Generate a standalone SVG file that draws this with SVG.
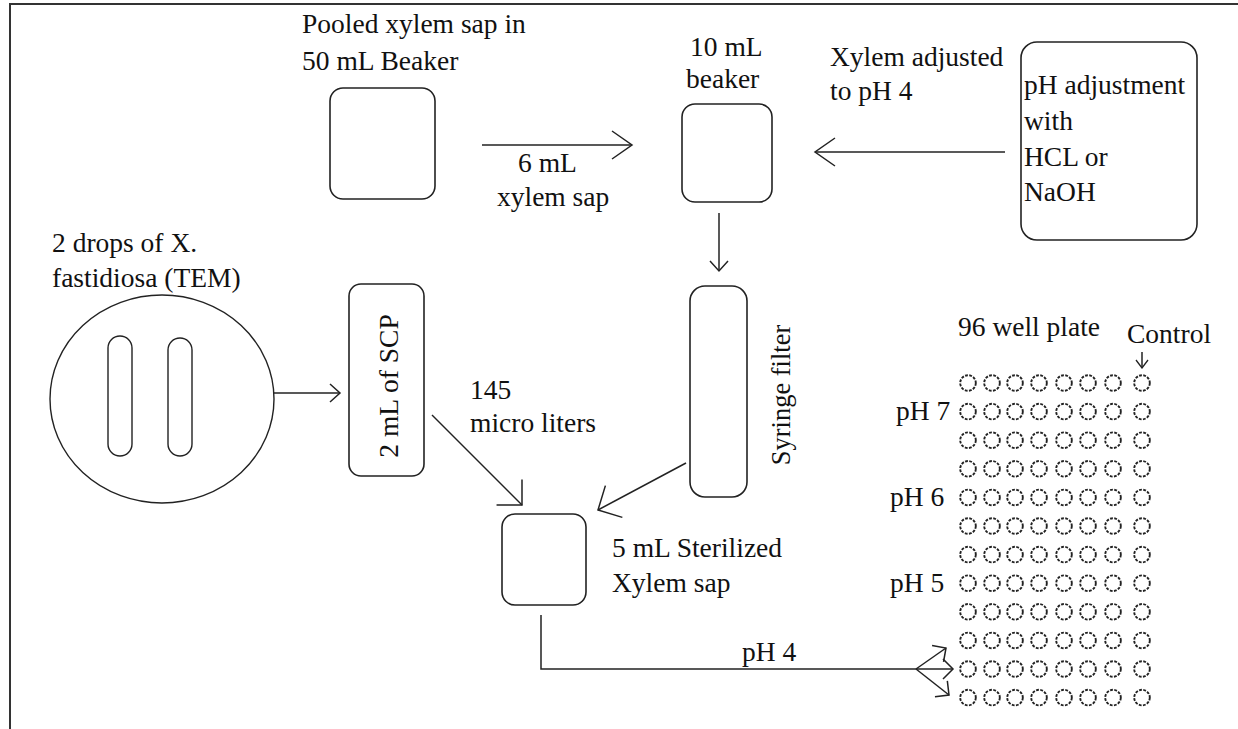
<svg xmlns="http://www.w3.org/2000/svg" width="1238" height="729" viewBox="0 0 1238 729">
<style>
text{font-family:"Liberation Serif","Times New Roman",serif;font-size:27.5px;fill:#111}
.b{fill:none;stroke:#222;stroke-width:1.6}
.c{fill:none;stroke:#222;stroke-width:1.4}
.w{fill:none;stroke:#222;stroke-width:1.9;stroke-dasharray:2.8 1.4}
</style>
<defs>
<marker id="big" markerUnits="userSpaceOnUse" markerWidth="24" markerHeight="32" viewBox="0 0 24 32" refX="22" refY="16" orient="auto"><path d="M2,2 L22,16 L2,30" fill="none" stroke="#222" stroke-width="1.5"/></marker>
<marker id="sm" markerUnits="userSpaceOnUse" markerWidth="14" markerHeight="22" viewBox="0 0 14 22" refX="12" refY="11" orient="auto"><path d="M2,2 L12,11 L2,20" fill="none" stroke="#222" stroke-width="1.5"/></marker>
<marker id="wide" markerUnits="userSpaceOnUse" markerWidth="22" markerHeight="42" viewBox="0 0 22 42" refX="20" refY="21" orient="auto"><path d="M2,3 L20,21 L2,39" fill="none" stroke="#222" stroke-width="1.5"/></marker>
<marker id="fk" markerUnits="userSpaceOnUse" markerWidth="14" markerHeight="24" viewBox="0 0 14 24" refX="12" refY="12" orient="auto"><path d="M2,2 L12,12 L2,22" fill="none" stroke="#222" stroke-width="1.5"/></marker>
<marker id="tiny" markerUnits="userSpaceOnUse" markerWidth="10" markerHeight="14" viewBox="0 0 10 14" refX="9" refY="7" orient="auto"><path d="M1,1 L9,7 L1,13" fill="none" stroke="#222" stroke-width="1.3"/></marker>
<g id="row">
<circle class="w" cx="968" cy="0" r="7.8"/><circle class="w" cx="992" cy="0" r="7.8"/><circle class="w" cx="1015" cy="0" r="7.8"/><circle class="w" cx="1039" cy="0" r="7.8"/><circle class="w" cx="1064" cy="0" r="7.8"/><circle class="w" cx="1088" cy="0" r="7.8"/><circle class="w" cx="1113" cy="0" r="7.8"/><circle class="w" cx="1142" cy="0" r="7.8"/>
</g>
</defs>
<rect width="1238" height="729" fill="#fff"/>
<g id="frame"><path d="M9,4 H1238 M10,4 V729" fill="none" stroke="#333" stroke-width="2"/></g>

<g id="pooled-beaker">
<text x="302" y="33">Pooled xylem sap in</text>
<text x="302" y="70">50 mL Beaker</text>
<rect class="b" x="330" y="88" width="105" height="111" rx="13"/>
</g>
<g id="beaker-10">
<text x="690" y="56">10 mL</text>
<text x="686" y="88">beaker</text>
<rect class="b" x="682" y="104" width="90" height="98" rx="13"/>
</g>
<g id="ph-adjust">
<rect class="b" x="1021" y="42" width="176" height="198" rx="16"/>
<text x="1024" y="94">pH adjustment</text>
<text x="1024" y="130">with</text>
<text x="1024" y="166">HCL or</text>
<text x="1024" y="201">NaOH</text>
</g>
<g id="syringe">
<rect class="b" x="690" y="286" width="57" height="211" rx="15"/>
<text transform="translate(790,395) rotate(-90)" text-anchor="middle" style="font-size:26.5px">Syringe filter</text>
</g>
<g id="dish">
<text x="52" y="252">2 drops of X.</text>
<text x="52" y="287">fastidiosa (TEM)</text>
<ellipse class="c" cx="162" cy="399" rx="112" ry="104"/>
<rect class="c" x="108" y="336" width="24" height="120" rx="12"/>
<rect class="c" x="168" y="338" width="24" height="118" rx="12"/>
</g>
<g id="scp">
<rect class="b" x="349" y="284" width="75" height="192" rx="12"/>
<text transform="translate(398,386) rotate(-90)" text-anchor="middle">2 mL of SCP</text>
</g>
<g id="sterile">
<rect class="b" x="502" y="514" width="84" height="91" rx="13"/>
<text x="612" y="557">5 mL  Sterilized</text>
<text x="612" y="592">Xylem sap</text>
</g>
<g id="plate">
<text x="958" y="336">96 well plate</text>
<text x="1127" y="343">Control</text>
<text x="896" y="420">pH 7</text>
<text x="890" y="506">pH 6</text>
<text x="890" y="592">pH 5</text>
<use href="#row" y="383"/><use href="#row" y="411.6"/><use href="#row" y="440.2"/><use href="#row" y="468.8"/>
<use href="#row" y="497.4"/><use href="#row" y="526"/><use href="#row" y="554.6"/><use href="#row" y="583.2"/>
<use href="#row" y="611.8"/><use href="#row" y="640.4"/><use href="#row" y="669"/><use href="#row" y="697.6"/>
</g>

<g id="connectors" fill="none" stroke="#222" stroke-width="1.5">
<path d="M482,145 H632" marker-end="url(#big)"/>
<path d="M1005,152 H815" marker-end="url(#big)"/>
<path d="M719,213 V271" marker-end="url(#sm)"/>
<path d="M274,393 H340" marker-end="url(#sm)"/>
<path d="M432,415 L522,505" marker-end="url(#wide)"/>
<path d="M686,463 L598,510" marker-end="url(#wide)"/>
<path d="M541,615 V669 H916"/>
<path d="M916,669 L946,648" marker-end="url(#fk)"/>
<path d="M916,669 H953" marker-end="url(#fk)"/>
<path d="M916,669 L949,695" marker-end="url(#fk)"/>
<path d="M1142,352 V368" marker-end="url(#tiny)"/>
</g>
<g id="connector-labels">
<text x="518" y="172">6 mL</text>
<text x="497" y="206">xylem sap</text>
<text x="830" y="66">Xylem adjusted</text>
<text x="830" y="100">to pH 4</text>
<text x="470" y="399">145</text>
<text x="470" y="432">micro liters</text>
<text x="742" y="661">pH 4</text>
</g>
</svg>
